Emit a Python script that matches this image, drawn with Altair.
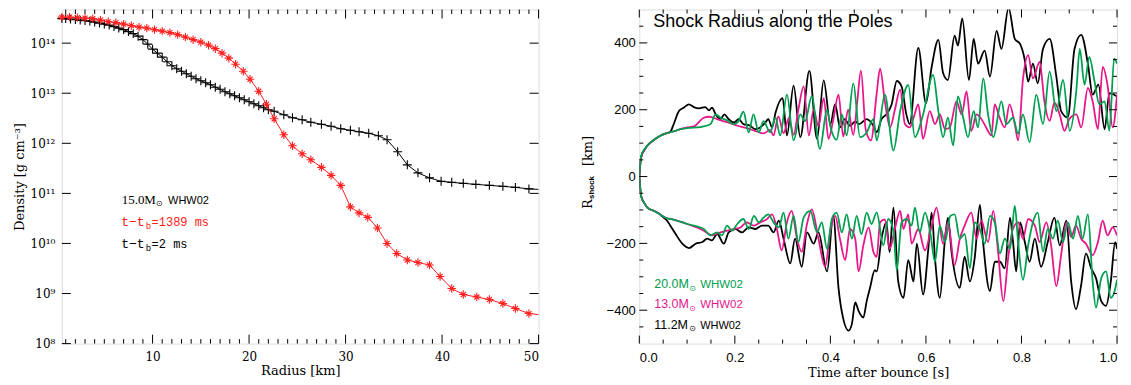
import altair as alt
import pandas as pd

# ---------------- Left panel: density profiles (radius km, log10 density) ----------------
black_profile = [(0.6,14.49),(1.0,14.49),(1.5,14.48),(2.0,14.47),(2.5,14.46),(3.0,14.45),(3.5,14.44),
    (4.0,14.42),(4.5,14.40),(5.0,14.38),(5.5,14.36),(6.0,14.33),(6.5,14.30),(7.0,14.27),(7.5,14.23),
    (8.0,14.19),(8.5,14.14),(9.0,14.07),(9.5,13.98),(10.0,13.88),(10.5,13.80),(11.0,13.72),(11.5,13.63),
    (12.0,13.55),(12.5,13.49),(13.0,13.44),(13.5,13.39),(14.0,13.34),(14.5,13.29),(15.0,13.25),(15.5,13.21),
    (16.0,13.17),(16.5,13.12),(17.0,13.08),(17.5,13.03),(18.0,12.99),(18.5,12.95),(19.0,12.91),(19.5,12.87),
    (20.0,12.83),(20.5,12.79),(21.0,12.75),(21.5,12.71),(22.0,12.67),(22.6,12.64),(23.6,12.57),(24.5,12.51),
    (25.5,12.47),(26.4,12.42),(27.5,12.38),(28.5,12.34),(29.5,12.29),(30.5,12.26),(31.4,12.23),(32.4,12.20),
    (33.4,12.15),(34.3,12.07),(35.4,11.83),(36.4,11.57),(37.5,11.41),(38.7,11.31),(39.9,11.24),(41.0,11.22),
    (42.2,11.20),(43.5,11.18),(44.9,11.16),(46.3,11.14),(47.6,11.12),(49.0,11.09),(50.0,11.08)]
red_profile = [(0.6,14.52),(1.4,14.52),(2.2,14.51),(3.0,14.50),(3.8,14.49),(4.6,14.46),(5.4,14.43),
    (6.2,14.41),(7.0,14.38),(7.8,14.35),(8.6,14.32),(9.4,14.30),(10.2,14.27),(11.0,14.24),(11.8,14.21),
    (12.6,14.17),(13.4,14.12),(14.2,14.07),(15.0,14.02),(15.8,13.96),(16.5,13.89),(17.2,13.80),(17.9,13.70),
    (18.6,13.58),(19.4,13.44),(20.1,13.28),(21.0,13.04),(21.8,12.78),(22.6,12.49),(23.6,12.17),(24.5,11.95),
    (25.5,11.79),(26.4,11.67),(27.5,11.52),(28.5,11.36),(29.5,11.16),(30.5,10.73),(31.4,10.61),(32.3,10.52),
    (33.3,10.31),(34.3,10.00),(35.3,9.80),(36.4,9.67),(37.5,9.62),(38.7,9.57),(39.8,9.34),(41.0,9.10),
    (42.2,8.98),(43.6,8.93),(44.9,8.88),(46.3,8.80),(47.6,8.70),(49.0,8.60),(50.0,8.58)]

left_x_major = [10, 20, 30, 40, 50]
left_x_minor = [v for v in range(1, 50) if v % 10 != 0]
left_y_major = [8, 9, 10, 11, 12, 13, 14]

# ---------------- Right panel: shock radius along poles (t s, R km) ----------------
b112_up = [(0,0),(0.003,50),(0.006,68),(0.01,78),(0.017,93),(0.031,110),(0.045,123),(0.058,130),(0.065,134),
    (0.072,157),(0.083,196),(0.093,206),(0.104,216),(0.114,208),(0.125,204),(0.138,208),(0.146,198),(0.152,206),
    (0.16,186),(0.17,172),(0.178,186),(0.187,172),(0.198,162),(0.208,172),(0.218,157),(0.232,152),(0.243,142),
    (0.253,147),(0.264,162),(0.27,172),(0.278,147),(0.285,190),(0.3,235),(0.309,123),(0.323,272),(0.337,118),
    (0.356,316),(0.372,113),(0.386,288),(0.40,157),(0.41,217),(0.42,147),(0.43,172),(0.441,152),(0.452,165),
    (0.46,157),(0.476,172),(0.49,152),(0.497,133),(0.507,172),(0.517,186),(0.528,215),(0.539,286),(0.549,270),
    (0.559,186),(0.566,157),(0.584,385),(0.6,220),(0.612,328),(0.626,409),(0.636,309),(0.646,289),(0.66,422),
    (0.667,392),(0.676,473),(0.69,289),(0.70,412),(0.709,338),(0.723,377),(0.734,299),(0.748,436),(0.758,382),
    (0.773,505),(0.786,412),(0.797,397),(0.807,348),(0.814,284),(0.824,338),(0.834,279),(0.845,382),(0.859,412),
    (0.873,299),(0.883,196),(0.897,177),(0.911,382),(0.925,424),(0.939,338),(0.949,245),(0.961,275),(0.974,142),
    (0.984,250),(0.994,245),(1.0,240)]
b112_lo = [(0,0),(0.003,-50),(0.006,-68),(0.01,-78),(0.017,-93),(0.031,-103),(0.045,-115),(0.051,-123),
    (0.058,-132),(0.065,-147),(0.076,-172),(0.09,-201),(0.104,-214),(0.118,-201),(0.132,-196),(0.142,-186),
    (0.152,-191),(0.163,-172),(0.177,-201),(0.187,-167),(0.201,-157),(0.215,-167),(0.229,-152),(0.243,-157),
    (0.257,-147),(0.27,-147),(0.281,-167),(0.292,-132),(0.302,-186),(0.316,-260),(0.326,-186),(0.34,-270),
    (0.351,-167),(0.365,-201),(0.375,-167),(0.393,-284),(0.406,-118),(0.417,-333),(0.427,-426),(0.438,-461),
    (0.445,-441),(0.452,-377),(0.459,-402),(0.469,-422),(0.476,-373),(0.483,-333),(0.493,-280),(0.497,-284),
    (0.507,-186),(0.517,-137),(0.524,-226),(0.532,-93),(0.542,-314),(0.553,-363),(0.563,-250),(0.574,-314),
    (0.581,-201),(0.594,-353),(0.605,-216),(0.612,-108),(0.619,-245),(0.629,-363),(0.64,-186),(0.646,-123),
    (0.654,-230),(0.671,-333),(0.681,-240),(0.692,-314),(0.702,-245),(0.713,-85),(0.719,-186),(0.734,-343),
    (0.744,-255),(0.755,-255),(0.765,-275),(0.776,-123),(0.782,-191),(0.789,-284),(0.797,-137),(0.807,-196),
    (0.817,-255),(0.828,-186),(0.841,-270),(0.855,-196),(0.869,-123),(0.88,-206),(0.894,-132),(0.904,-314),
    (0.914,-397),(0.925,-324),(0.935,-230),(0.946,-275),(0.956,-304),(0.967,-373),(0.977,-387),(0.987,-314),
    (0.996,-196),(1.0,-216)]
m130_up = [(0,0),(0.003,50),(0.006,68),(0.01,78),(0.017,93),(0.031,110),(0.045,123),(0.058,130),(0.072,135),
    (0.086,142),(0.1,147),(0.114,150),(0.135,176),(0.146,179),(0.163,172),(0.177,165),(0.19,160),(0.205,152),
    (0.225,145),(0.246,135),(0.26,129),(0.274,140),(0.281,123),(0.291,180),(0.302,130),(0.313,175),(0.323,125),
    (0.333,200),(0.344,270),(0.355,123),(0.365,200),(0.375,150),(0.386,235),(0.396,113),(0.406,170),(0.417,245),
    (0.427,120),(0.437,200),(0.448,125),(0.456,220),(0.464,317),(0.474,140),(0.485,108),(0.497,250),(0.504,323),
    (0.514,225),(0.525,147),(0.535,200),(0.546,260),(0.556,157),(0.566,147),(0.575,180),(0.584,216),(0.594,113),
    (0.608,196),(0.619,157),(0.629,186),(0.64,142),(0.65,147),(0.664,225),(0.675,186),(0.685,255),(0.695,137),
    (0.706,186),(0.716,172),(0.726,147),(0.737,123),(0.744,216),(0.754,177),(0.765,147),(0.775,216),(0.786,157),
    (0.793,108),(0.803,289),(0.814,363),(0.824,294),(0.838,343),(0.848,225),(0.859,167),(0.869,221),(0.88,186),
    (0.89,137),(0.9,172),(0.915,186),(0.925,147),(0.939,265),(0.949,225),(0.96,142),(0.97,328),(0.98,275),
    (0.991,147),(1.0,245)]
m130_lo = [(0,0),(0.003,-50),(0.006,-68),(0.01,-78),(0.017,-93),(0.031,-103),(0.045,-115),(0.058,-125),
    (0.065,-127),(0.1,-142),(0.135,-162),(0.152,-176),(0.17,-167),(0.184,-162),(0.198,-157),(0.212,-152),
    (0.225,-137),(0.24,-147),(0.253,-137),(0.267,-128),(0.278,-113),(0.288,-157),(0.298,-221),(0.309,-137),
    (0.319,-103),(0.33,-186),(0.34,-225),(0.351,-142),(0.361,-98),(0.375,-186),(0.389,-270),(0.4,-162),
    (0.41,-118),(0.42,-186),(0.431,-250),(0.441,-157),(0.452,-186),(0.459,-284),(0.469,-206),(0.48,-152),
    (0.49,-225),(0.497,-240),(0.504,-137),(0.514,-128),(0.524,-216),(0.535,-157),(0.546,-103),(0.553,-157),
    (0.563,-113),(0.57,-201),(0.584,-157),(0.598,-221),(0.612,-147),(0.622,-93),(0.636,-201),(0.646,-137),
    (0.66,-265),(0.671,-186),(0.681,-147),(0.695,-108),(0.706,-186),(0.716,-132),(0.73,-196),(0.741,-103),
    (0.751,-225),(0.762,-373),(0.772,-245),(0.782,-157),(0.793,-137),(0.803,-186),(0.814,-127),(0.828,-147),
    (0.838,-196),(0.852,-137),(0.862,-206),(0.873,-328),(0.883,-235),(0.894,-137),(0.904,-181),(0.914,-147),
    (0.925,-186),(0.935,-201),(0.949,-235),(0.96,-196),(0.97,-132),(0.98,-176),(0.991,-152),(1.0,-176)]
g200_up = [(0,0),(0.003,55),(0.006,70),(0.01,80),(0.017,93),(0.031,110),(0.045,123),(0.058,130),(0.072,135),
    (0.086,142),(0.1,145),(0.128,148),(0.149,157),(0.16,186),(0.17,176),(0.184,168),(0.198,157),(0.208,166),
    (0.218,194),(0.229,132),(0.239,186),(0.25,132),(0.26,166),(0.274,132),(0.285,176),(0.295,123),(0.309,245),
    (0.323,108),(0.337,186),(0.347,166),(0.361,240),(0.378,83),(0.393,200),(0.4,150),(0.413,110),(0.424,186),
    (0.434,123),(0.448,279),(0.462,118),(0.476,132),(0.49,172),(0.497,108),(0.514,245),(0.532,78),(0.546,196),
    (0.563,274),(0.577,118),(0.594,186),(0.615,304),(0.626,196),(0.636,118),(0.646,176),(0.657,93),(0.667,240),
    (0.678,176),(0.688,118),(0.70,196),(0.709,147),(0.72,294),(0.73,186),(0.741,118),(0.758,225),(0.768,157),
    (0.782,176),(0.793,128),(0.803,186),(0.817,103),(0.831,245),(0.845,157),(0.859,314),(0.873,196),(0.887,289),
    (0.901,137),(0.915,260),(0.922,382),(0.932,275),(0.942,358),(0.953,284),(0.963,216),(0.974,225),(0.984,137),
    (0.994,353),(1.0,338)]
g200_lo = [(0,0),(0.003,-50),(0.006,-68),(0.01,-78),(0.017,-93),(0.031,-103),(0.045,-115),(0.058,-125),
    (0.065,-127),(0.1,-142),(0.135,-157),(0.149,-176),(0.163,-167),(0.173,-176),(0.184,-147),(0.194,-162),
    (0.205,-142),(0.218,-127),(0.229,-157),(0.24,-118),(0.25,-137),(0.26,-123),(0.27,-113),(0.281,-137),
    (0.292,-152),(0.302,-108),(0.312,-186),(0.323,-118),(0.333,-196),(0.344,-123),(0.358,-103),(0.372,-167),
    (0.382,-137),(0.393,-216),(0.403,-127),(0.413,-108),(0.424,-167),(0.434,-113),(0.445,-186),(0.455,-118),
    (0.465,-172),(0.476,-108),(0.486,-142),(0.497,-108),(0.511,-206),(0.521,-127),(0.532,-162),(0.539,-280),
    (0.549,-137),(0.56,-127),(0.57,-147),(0.577,-93),(0.587,-167),(0.598,-108),(0.609,-167),(0.619,-255),
    (0.629,-147),(0.64,-196),(0.651,-118),(0.66,-113),(0.671,-186),(0.681,-172),(0.692,-275),(0.702,-137),
    (0.713,-157),(0.723,-201),(0.734,-118),(0.744,-137),(0.755,-230),(0.765,-186),(0.776,-216),(0.786,-88),
    (0.793,-196),(0.803,-309),(0.814,-206),(0.824,-137),(0.834,-108),(0.845,-225),(0.855,-157),(0.866,-186),
    (0.876,-132),(0.887,-196),(0.897,-137),(0.908,-186),(0.918,-118),(0.928,-186),(0.939,-113),(0.949,-314),
    (0.956,-392),(0.967,-304),(0.977,-284),(0.987,-363),(0.994,-348),(1.0,-309)]

right_x_major = [0.0, 0.2, 0.4, 0.6, 0.8, 1.0]
right_x_minor = [0.05, 0.1, 0.15, 0.25, 0.3, 0.35, 0.45, 0.5, 0.55, 0.65, 0.7, 0.75, 0.85, 0.9, 0.95]
right_y_major = [-400, -200, 0, 200, 400]
right_y_minor = [-450, -350, -300, -250, -150, -100, -50, 50, 100, 150, 250, 300, 350, 450]

BLACK, MAGENTA, GREEN, RED = "#000000", "#E8168B", "#00A050", "#FF2020"

W1, W2, H = 478, 479, 335
ONE = pd.DataFrame({"k": [0]})


def label(txt, x, y, size, color="black", font="Liberation Serif", angle=None, weight="normal"):
    kw = dict(text=txt, align="left", baseline="alphabetic", fontSize=size, color=color,
              font=font, fontWeight=weight)
    if angle is not None:
        kw["angle"] = angle
    return alt.Chart(ONE).mark_text(**kw).encode(x=alt.value(x), y=alt.value(y))


def ticks(vals, ch, scale, axis, length, side, W):
    c = alt.Chart(pd.DataFrame({"v": vals})).mark_rule(color="black", strokeWidth=1)
    if ch == "x":
        enc = dict(x=alt.X("v:Q", scale=scale, axis=axis))
        if side == "bottom":
            enc.update(y=alt.value(H), y2=alt.value(H - length))
        else:
            enc.update(y=alt.value(0), y2=alt.value(length))
    else:
        enc = dict(y=alt.Y("v:Q", scale=scale, axis=axis))
        if side == "left":
            enc.update(x=alt.value(0), x2=alt.value(length))
        else:
            enc.update(x=alt.value(W), x2=alt.value(W - length))
    return c.encode(**enc)


# ---------------- Left chart ----------------
xs_l = alt.Scale(domain=[0.6, 50], nice=False, zero=False)
ys_l = alt.Scale(domain=[8, 14.672], nice=False, zero=False)
df_b = pd.DataFrame(black_profile, columns=["r", "lr"])
df_r = pd.DataFrame(red_profile, columns=["r", "lr"])

sup = {8: "⁸", 9: "⁹", 10: "¹⁰", 11: "¹¹", 12: "¹²", 13: "¹³", 14: "¹⁴"}
lbl_expr = " : ".join([f"datum.value == {k} ? '10{v}'" for k, v in sup.items()]) + " : ''"

x_axis_l = alt.Axis(values=left_x_major, title="Radius [km]", domain=False, ticks=False, grid=False,
                    labelFont="DejaVu Serif", labelFontSize=12, labelColor="black", labelPadding=8,
                    titleFont="DejaVu Serif", titleFontSize=13, titleFontWeight="normal",
                    titleColor="black", titlePadding=2)
y_axis_l = alt.Axis(values=left_y_major, labelExpr=lbl_expr, title="Density [g cm⁻³]", domain=False,
                    ticks=False, grid=False, labelFont="DejaVu Serif", labelFontSize=12,
                    labelColor="black", labelPadding=7, titleFont="DejaVu Serif", titleFontSize=13,
                    titleFontWeight="normal", titleColor="black", titlePadding=4)

plus_path = "M-1,0L1,0M0,-1L0,1"
star_path = "M-1,0L1,0M0,-1L0,1M-0.6,-0.6L0.6,0.6M-0.6,0.6L0.6,-0.6"


def lx(): return alt.X("r:Q", scale=xs_l, axis=x_axis_l)
def ly(): return alt.Y("lr:Q", scale=ys_l, axis=y_axis_l)


black_line = alt.Chart(df_b).mark_line(color=BLACK, strokeWidth=1, clip=True).encode(x=lx(), y=ly())
black_pts = alt.Chart(df_b).transform_filter("datum.r < 49.9").mark_point(
    shape=plus_path, size=81, color=BLACK, strokeWidth=1.1, filled=False, opacity=1).encode(x=lx(), y=ly())
red_line = alt.Chart(df_r).mark_line(color=RED, strokeWidth=1, clip=True).encode(x=lx(), y=ly())
red_pts = alt.Chart(df_r).transform_filter("datum.r < 49.9").mark_point(
    shape=star_path, size=72, color=RED, strokeWidth=1.1, filled=False, opacity=1).encode(x=lx(), y=ly())

left_layers = [black_line, black_pts, red_line, red_pts,
               ticks(left_x_major, "x", xs_l, x_axis_l, 9, "bottom", W1),
               ticks(left_x_major, "x", xs_l, x_axis_l, 9, "top", W1),
               ticks(left_x_minor, "x", xs_l, x_axis_l, 4.5, "bottom", W1),
               ticks(left_x_minor, "x", xs_l, x_axis_l, 4.5, "top", W1),
               ticks(left_y_major, "y", ys_l, y_axis_l, 9, "left", W1),
               ticks(left_y_major, "y", ys_l, y_axis_l, 9, "right", W1),
               label("15.0M", 60, 194.7, 13),
               label("⊙", 94.5, 197.5, 8, font="DejaVu Sans"),
               label("WHW02", 106.5, 194.7, 11, font="Liberation Sans"),
               label("t−t", 59.5, 217, 13, color=RED, font="Liberation Mono"),
               label("b", 84, 220, 9, color=RED, font="Liberation Mono"),
               label("=1389 ms", 90, 217, 12, color=RED, font="Liberation Mono"),
               label("t−t", 59.5, 239.3, 13, font="Liberation Mono"),
               label("b", 84, 242.3, 9, font="Liberation Mono"),
               label("=2 ms", 90, 239.3, 12, font="Liberation Mono")]
left = alt.layer(*left_layers).properties(width=W1, height=H)

# ---------------- Right chart ----------------
xs_r = alt.Scale(domain=[0, 1], nice=False, zero=False)
ys_r = alt.Scale(domain=[-500, 500], nice=False, zero=False)

x_axis_r = alt.Axis(values=right_x_major, format=".1f", title="Time after bounce [s]", domain=False,
                    ticks=False, grid=False, labelFont="Liberation Sans", labelFontSize=13,
                    labelColor="black", labelPadding=8, titleFont="DejaVu Serif", titleFontSize=13,
                    titleFontWeight="normal", titleColor="black", titlePadding=2)
y_axis_r = alt.Axis(values=right_y_major, title=None, domain=False, ticks=False, grid=False,
                    labelFont="Liberation Sans", labelFontSize=13, labelColor="black", labelPadding=4)


def trace_df(up, lo):
    a = pd.DataFrame(up, columns=["t", "R"]); a["branch"] = "north"
    b = pd.DataFrame(lo, columns=["t", "R"]); b["branch"] = "south"
    return pd.concat([a, b], ignore_index=True)


def trace_layer(df, color):
    return alt.Chart(df).mark_line(color=color, strokeWidth=1.8, clip=True, interpolate="monotone").encode(
        x=alt.X("t:Q", scale=xs_r, axis=x_axis_r),
        y=alt.Y("R:Q", scale=ys_r, axis=y_axis_r),
        detail="branch:N")


right_layers = [trace_layer(trace_df(b112_up, b112_lo), BLACK),
                trace_layer(trace_df(m130_up, m130_lo), MAGENTA),
                trace_layer(trace_df(g200_up, g200_lo), GREEN),
                ticks(right_x_major, "x", xs_r, x_axis_r, 8, "bottom", W2),
                ticks(right_x_major, "x", xs_r, x_axis_r, 8, "top", W2),
                ticks(right_x_minor, "x", xs_r, x_axis_r, 4, "bottom", W2),
                ticks(right_x_minor, "x", xs_r, x_axis_r, 4, "top", W2),
                ticks(right_y_major, "y", ys_r, y_axis_r, 8, "left", W2),
                ticks(right_y_major, "y", ys_r, y_axis_r, 8, "right", W2),
                ticks(right_y_minor, "y", ys_r, y_axis_r, 4, "left", W2),
                ticks(right_y_minor, "y", ys_r, y_axis_r, 4, "right", W2),
                label("Shock Radius along the Poles", 14, 18, 18, font="Liberation Sans"),
                label("20.0M", 15, 279.3, 12.5, color=GREEN, font="Liberation Sans"),
                label("⊙", 50, 282, 8, color=GREEN, font="DejaVu Sans"),
                label("WHW02", 61, 279.3, 11.5, color=GREEN, font="Liberation Sans"),
                label("13.0M", 15, 299.7, 12.5, color=MAGENTA, font="Liberation Sans"),
                label("⊙", 50, 302.4, 8, color=MAGENTA, font="DejaVu Sans"),
                label("WHW02", 61, 299.7, 11.5, color=MAGENTA, font="Liberation Sans"),
                label("11.2M", 15, 320, 12.5, font="Liberation Sans"),
                label("⊙", 50, 322.7, 8, font="DejaVu Sans"),
                label("WHW02", 61, 320, 11, font="Liberation Sans"),
                label("R", -47.5, 200, 13, font="DejaVu Serif", angle=270),
                label("shock", -45, 190, 8, font="Liberation Sans", angle=270, weight="bold"),
                label("[km]", -47.5, 157, 13, font="DejaVu Serif", angle=270)]
right = alt.layer(*right_layers).properties(width=W2, height=H)

chart = alt.hconcat(left, right, spacing=42).properties(
    padding={"left": 4, "top": 0, "right": 5, "bottom": 2}
).configure_view(stroke="black", strokeWidth=1.2).configure(background="white")

chart.save("out.html", embed_options={"renderer": "svg", "actions": False})
